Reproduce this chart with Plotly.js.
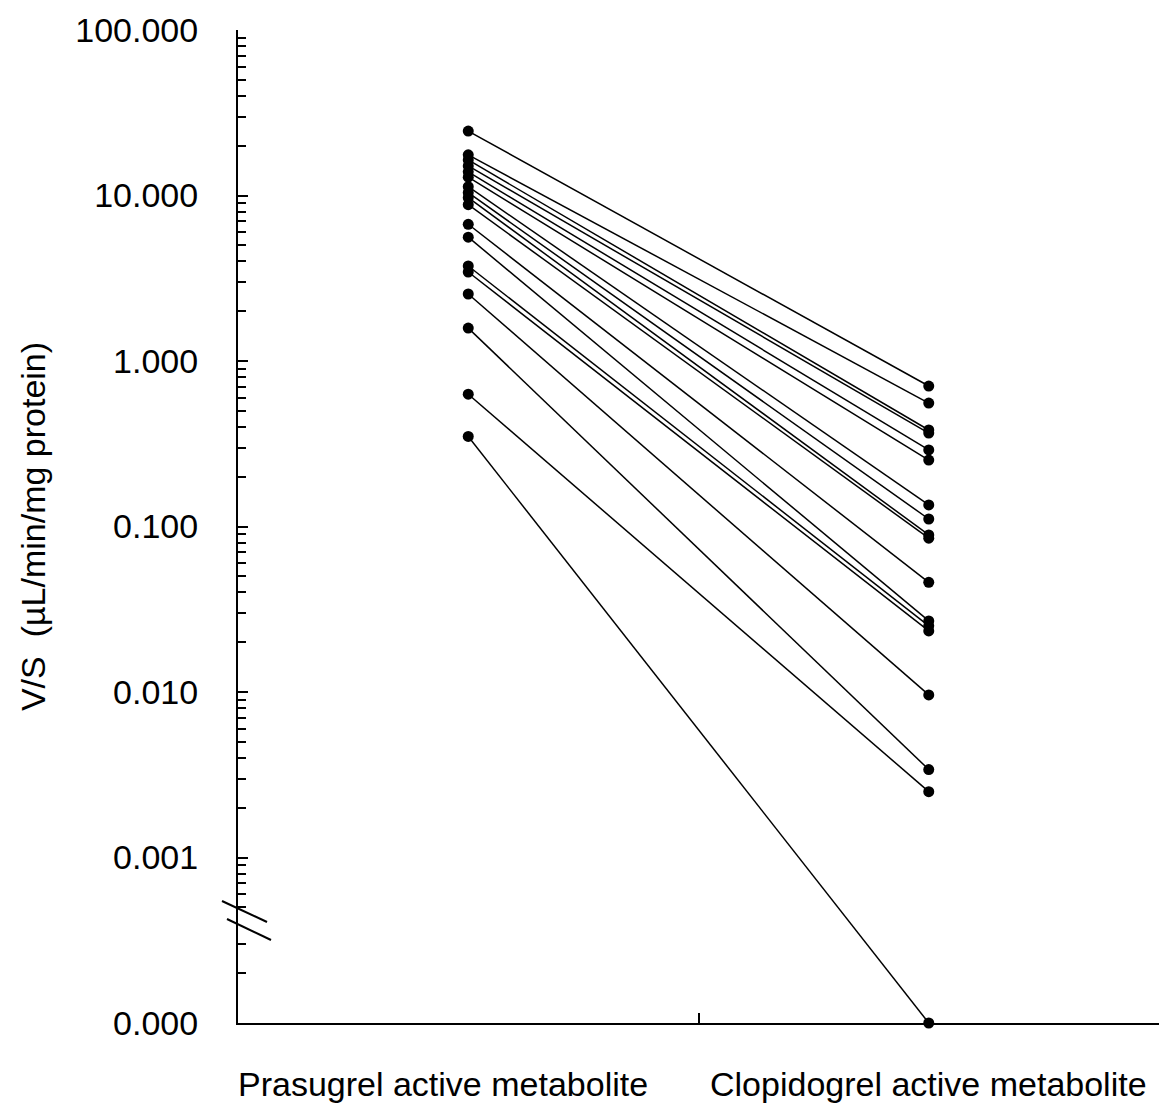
<!DOCTYPE html>
<html>
<head>
<meta charset="utf-8">
<script src="https://cdn.plot.ly/plotly-3.0.1.min.js"></script>
<style>
  html, body { margin: 0; padding: 0; background: #fff; }
  #chart { width: 1160px; height: 1107px; }
</style>
</head>
<body>
<div id="chart"></div>
<script>
// ---- Data ----
const categories = ['Prasugrel active metabolite', 'Clopidogrel active metabolite'];
const prasugrelVS = [24.5, 17.6, 16.4, 15.1, 13.9, 12.9, 11.3, 10.4, 9.7, 8.8, 6.7, 5.6, 3.75, 3.45, 2.54, 1.58, 0.63, 0.35];
const clopidogrelVS = [0.706, 0.557, 0.383, 0.367, 0.290, 0.252, 0.135, 0.111, 0.089, 0.085, 0.046, 0.0269, 0.0251, 0.0234, 0.0096, 0.0034, 0.0025, 0];
const yTickVals = [0.0001, 0.001, 0.01, 0.1, 1, 10, 100];
const yTickText = ['0.000', '0.001', '0.010', '0.100', '1.000', '10.000', '100.000'];
const zeroShownAt = 0.0001;   // a value of 0 is drawn on the "0.000" baseline

// ---- Build traces ----
const traces = prasugrelVS.map((p, i) => {
  const c = clopidogrelVS[i];
  return {
    type: 'scatter',
    mode: 'lines+markers',
    x: categories,
    y: [p === 0 ? zeroShownAt : p, c === 0 ? zeroShownAt : c],
    line: { color: '#000', width: 1.5 },
    marker: { color: '#000', size: 11 },
    cliponaxis: false,
    showlegend: false,
    hoverinfo: 'y'
  };
});

// minor ticks: 2..9 in every decade, except the one hidden by the axis break
const minorVals = [];
for (let e = -4; e < 2; e++) {
  for (let d = 2; d <= 9; d++) {
    if (e === -4 && d === 4) continue;
    minorVals.push(d * Math.pow(10, e));
  }
}

// axis-break marks
const breakValue = 0.000443;
const breakPaperY = (Math.log10(breakValue) + 4) / 6;
function slash(x0, y0, x1, y1) {
  return {
    type: 'line', xref: 'paper', yref: 'paper',
    xsizemode: 'pixel', ysizemode: 'pixel',
    xanchor: 0, yanchor: breakPaperY,
    x0: x0, y0: y0, x1: x1, y1: y1,
    line: { color: '#000', width: 2 }
  };
}

const fontFam = '"Liberation Sans", Arial, sans-serif';

// category labels drawn under the axis (the first one sits a little left of its column)
const labelShift = [-25, 0];
const catLabels = categories.map((c, i) => ({
  text: c,
  xref: 'x', yref: 'paper',
  x: c, y: 0,
  xanchor: 'center', yanchor: 'middle',
  xshift: labelShift[i], yshift: -61,
  showarrow: false,
  font: { family: fontFam, size: 34, color: '#000' }
}));

const layout = {
  width: 1160,
  height: 1107,
  margin: { l: 238, r: 1, t: 30, b: 84, pad: 0 },
  paper_bgcolor: '#fff',
  plot_bgcolor: '#fff',
  font: { family: fontFam, size: 34, color: '#000' },
  xaxis: {
    type: 'category',
    range: [-0.5, 1.5],
    showgrid: false,
    zeroline: false,
    showline: true,
    linecolor: '#000',
    linewidth: 2,
    ticks: 'inside',
    tickson: 'boundaries',
    ticklen: 10,
    tickwidth: 2,
    tickcolor: '#000',
    showticklabels: false,
    automargin: false
  },
  yaxis: {
    type: 'log',
    range: [-4, 2],
    showgrid: false,
    zeroline: false,
    showline: true,
    linecolor: '#000',
    linewidth: 2,
    tickmode: 'array',
    tickvals: yTickVals,
    ticktext: yTickText,
    ticks: 'inside',
    ticklen: 10,
    tickwidth: 2,
    tickcolor: '#000',
    ticklabelstandoff: 31,
    tickfont: { family: fontFam, size: 34, color: '#000' },
    minor: {
      tickmode: 'array',
      tickvals: minorVals,
      ticks: 'inside',
      ticklen: 8,
      tickwidth: 2,
      tickcolor: '#000',
      showgrid: false
    },
    title: {
      text: 'V/S  (µL/min/mg protein)',
      font: { family: fontFam, size: 34, color: '#000' },
      standoff: 19
    },
    automargin: false
  },
  annotations: catLabels,
  shapes: [
    slash(-16, 15, 29, -6),
    slash(-11, -3, 33, -24)
  ]
};

Plotly.newPlot('chart', traces, layout, { staticPlot: true, displayModeBar: false });
</script>
</body>
</html>
